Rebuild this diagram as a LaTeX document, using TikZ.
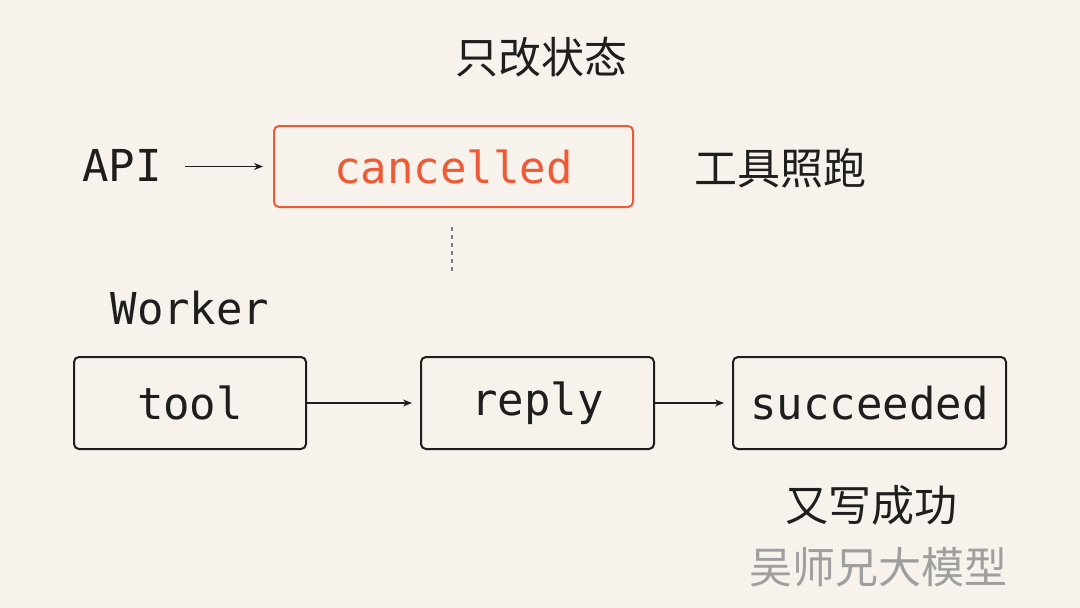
\documentclass[tikz,border=0pt]{standalone}
\usepackage{fontspec}
\setmonofont{DejaVu Sans Mono}
\newfontfamily\cjk{Noto Sans CJK SC}
\usetikzlibrary{arrows.meta}
\definecolor{bg}{HTML}{F7F3EC}
\definecolor{org}{HTML}{EE5A36}
\definecolor{ink}{HTML}{1E1E1E}
\begin{document}
\begin{tikzpicture}[x=1pt,y=-1pt,
  box/.style={draw=ink,line width=2pt,rounded corners=5pt,font=\ttfamily\fontsize{44}{44}\selectfont,text=ink},
  lab/.style={font=\ttfamily\fontsize{44}{44}\selectfont,text=ink},
  cj/.style={font=\cjk\fontsize{43}{43}\selectfont,text=ink},
  arr/.style={draw=ink,line width=1.5pt,-{Stealth[length=9pt,width=7pt]}}]
\fill[bg] (0,0) rectangle (1080,608);
\useasboundingbox (0,0) rectangle (1080,608);
\node[box,draw=org,text=org,minimum width=359pt,minimum height=81pt] (c) at (453.5,166.5) {cancelled};
\node[box,minimum width=232pt,minimum height=92pt] (t) at (190,403) {tool};
\node[box,minimum width=233pt,minimum height=92pt] (r) at (537.5,403) {reply};
\node[box,minimum width=273pt,minimum height=92pt] (s) at (869.5,403) {succeeded};
\node[lab] (api) at (122,165) {API};
\node[lab] (w) at (190,308) {Worker};
\node[cj] (z) at (541,57) {只改状态};
\node[cj] (g) at (780,168) {工具照跑};
\node[cj] (y) at (871,505) {又写成功};
\node[cj,text=gray!75] (m) at (878,567) {吴师兄大模型};
\draw[arr,shorten <=20pt,shorten >=10pt] (api.east|-c.west) -- (c.west);
\draw[arr,shorten >=8pt] (t) -- (r);
\draw[arr,shorten >=8pt] (r) -- (s);
\coordinate (d1) at (452,227);
\coordinate (d2) at (452,272);
\draw[gray,line width=2pt,dash pattern=on 4pt off 4pt] (d1) -- (d2);
\end{tikzpicture}
\end{document}
